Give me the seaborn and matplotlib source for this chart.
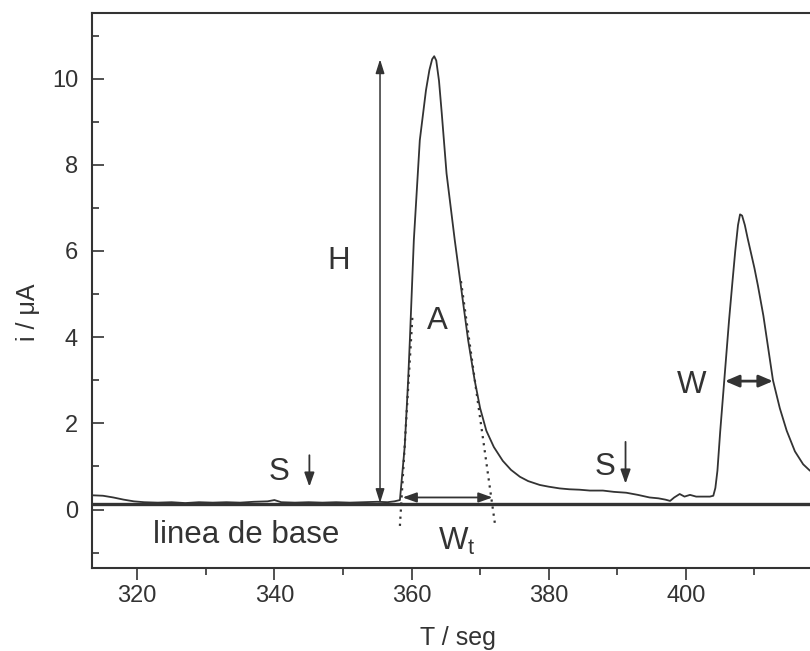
import numpy as np
import pandas as pd
import matplotlib
matplotlib.use("Agg")
import matplotlib.pyplot as plt
from matplotlib.ticker import MultipleLocator
import seaborn as sns

# ---- data ----
time_s = [313.5, 315, 316.5, 318, 319.5, 321, 323, 325, 327, 329, 331, 333, 335, 337, 339,
          340, 341, 343, 345, 347, 349, 351, 353, 355, 356.5, 357.5, 358.3, 359.0, 359.5,
          359.75, 360.33, 361.2, 362.1, 362.6, 363.0, 363.3, 363.6, 364.0, 364.4, 365.1,
          366.3, 367.6, 368.25, 369.2, 370.0, 370.9, 372.0, 373.3, 374.5, 375.8, 377.0,
          378.7, 380.0, 381.6, 383.0, 384.5, 386.0, 387.9, 389.5, 391.3, 393.0, 394.7,
          396.0, 397.0, 397.7, 398.3, 399.1, 399.8, 400.6, 401.5, 402.5, 403.5, 404.0,
          404.3, 404.6, 405.0, 405.3, 405.8, 406.3, 406.8, 407.2, 407.6, 407.9, 408.2,
          408.6, 409.0, 409.5, 410.0, 410.5, 411.3, 412.0, 412.7, 413.7, 414.7, 415.9,
          417.1, 418.1]
current_uA = [0.33, 0.32, 0.28, 0.23, 0.19, 0.17, 0.16, 0.17, 0.15, 0.17, 0.16, 0.17, 0.16, 0.18, 0.19,
              0.22, 0.17, 0.16, 0.17, 0.16, 0.17, 0.16, 0.17, 0.18, 0.17, 0.19, 0.22, 1.46, 3.0,
              3.93, 6.25, 8.57, 9.73, 10.2, 10.45, 10.52, 10.42, 9.95, 9.2, 7.8,
              6.25, 4.7, 3.93, 3.0, 2.35, 1.83, 1.45, 1.13, 0.92, 0.76, 0.66,
              0.57, 0.53, 0.49, 0.47, 0.46, 0.44, 0.44, 0.41, 0.39, 0.34, 0.28,
              0.26, 0.23, 0.20, 0.28, 0.36, 0.30, 0.34, 0.30, 0.30, 0.30, 0.32,
              0.5, 0.9, 1.8, 2.4, 3.4, 4.4, 5.3, 6.0, 6.6, 6.85, 6.82,
              6.6, 6.3, 5.95, 5.6, 5.2, 4.5, 3.75, 3.0, 2.35, 1.83, 1.35,
              1.05, 0.9]

baseline_uA = 0.12

# tangents (dotted) of first peak
tangent_left_t = [358.3, 360.15]
tangent_left_i = [-0.38, 4.55]
tangent_right_t = [367.2, 372.2]
tangent_right_i = [5.3, -0.38]

x_ticks = [320, 340, 360, 380, 400]
y_ticks = [0, 2, 4, 6, 8, 10]

df = pd.DataFrame({"T": time_s, "i": current_uA})

# ---- style ----
sns.set_style("ticks")
plt.rcParams["font.family"] = ["Liberation Sans", "DejaVu Sans"]
plt.rcParams["mathtext.fontset"] = "custom"
plt.rcParams["mathtext.rm"] = "Liberation Sans"
plt.rcParams["mathtext.it"] = "Liberation Sans"
ink = "#333333"

fig = plt.figure(figsize=(8.1, 6.51), dpi=100)
ax = fig.add_axes([92 / 810, 83 / 651, (810 - 92) / 810, (568 - 12.7) / 651])

sns.lineplot(data=df, x="T", y="i", ax=ax, color=ink, linewidth=1.3,
             estimator=None, sort=False)
ax.axhline(baseline_uA, color=ink, linewidth=2.4, zorder=3)

sns.lineplot(x=tangent_left_t, y=tangent_left_i, ax=ax, color=ink,
             linewidth=1.6, linestyle=(0, (1, 2.2)), estimator=None, sort=False)
sns.lineplot(x=tangent_right_t, y=tangent_right_i, ax=ax, color=ink,
             linewidth=1.6, linestyle=(0, (1, 2.2)), estimator=None, sort=False)

ax.set_xlim(313.4, 418.1)
ax.set_ylim(-1.357, 11.53)
ax.set_xticks(x_ticks)
ax.set_yticks(y_ticks)
ax.xaxis.set_minor_locator(MultipleLocator(10))
ax.yaxis.set_minor_locator(MultipleLocator(1))

for side in ["left", "bottom", "top"]:
    ax.spines[side].set_color(ink)
    ax.spines[side].set_linewidth(1.5)
ax.spines["right"].set_visible(False)

ax.tick_params(axis="x", which="major", direction="out", length=8.6, width=1.2,
               colors=ink, labelsize=17, pad=4)
ax.tick_params(axis="x", which="minor", direction="out", length=5, width=1.2, colors=ink)
ax.tick_params(axis="y", which="major", direction="in", length=8.6, width=1.2,
               colors=ink, labelsize=17, pad=10)
ax.tick_params(axis="y", which="minor", direction="in", length=5, width=1.2, colors=ink)

ax.set_xlabel("T / seg", fontsize=18, color=ink, va="baseline")
ax.xaxis.set_label_coords(0.51, -0.139)
ax.set_ylabel("i / μA", fontsize=18, color=ink, va="center")
ax.yaxis.set_label_coords(-0.0898, 0.46)

# ---- annotations ----
def darrow(x0, y0, x1, y1, style, ms, lw):
    ax.annotate("", xy=(x1, y1), xytext=(x0, y0),
                arrowprops=dict(arrowstyle=style, color=ink, lw=lw,
                                shrinkA=0, shrinkB=0, mutation_scale=ms))

darrow(355.4, 0.15, 355.4, 10.45, "<|-|>,head_length=0.7,head_width=0.22", 12, 1.1)
darrow(358.7, 0.28, 371.8, 0.28, "<|-|>,head_length=0.7,head_width=0.25", 12, 1.3)
darrow(405.7, 2.98, 412.7, 2.98, "<|-|>,head_length=0.7,head_width=0.3", 12, 2.0)
darrow(345.1, 1.26, 345.1, 0.53, "-|>,head_length=0.7,head_width=0.25", 12, 1.3)
darrow(391.2, 1.57, 391.2, 0.60, "-|>,head_length=0.7,head_width=0.25", 12, 1.3)

tk = dict(color=ink, fontsize=22.5, va="baseline")
ax.text(349.4, 5.58, "H", ha="center", **tk)
ax.text(363.7, 4.19, "A", ha="center", **tk)
ax.text(400.8, 2.71, "W", ha="center", **tk)
ax.text(340.6, 0.68, "S", ha="center", **tk)
ax.text(388.2, 0.80, "S", ha="center", **tk)
ax.text(322.3, -0.77, "linea de base", ha="left", **tk)
ax.text(363.9, -0.94, r"W$_\mathrm{t}$", ha="left", **tk)

fig.savefig("out.png", dpi=100, facecolor="white")
